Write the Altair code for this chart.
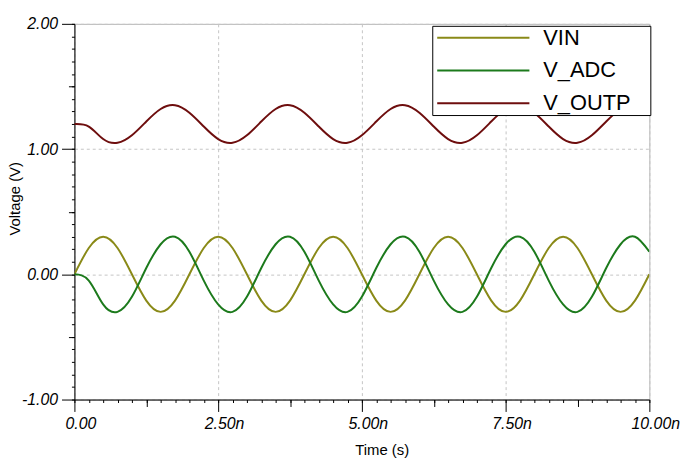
import altair as alt
import pandas as pd

# ---- data (time in ns, voltage in V) ----
time_ns = [0.00, 0.25, 0.50, 0.75, 1.00, 1.25, 1.50, 1.75, 2.00,
           2.25, 2.50, 2.75, 3.00, 3.25, 3.50, 3.75, 4.00,
           4.25, 4.50, 4.75, 5.00, 5.25, 5.50, 5.75, 6.00,
           6.25, 6.50, 6.75, 7.00, 7.25, 7.50, 7.75, 8.00,
           8.25, 8.50, 8.75, 9.00, 9.25, 9.50, 9.75, 10.00]

vin = [0.00, 0.21, 0.30, 0.21, 0.00, -0.21, -0.30, -0.21, 0.00,
       0.21, 0.30, 0.21, 0.00, -0.21, -0.30, -0.21, 0.00,
       0.21, 0.30, 0.21, 0.00, -0.21, -0.30, -0.21, 0.00,
       0.21, 0.30, 0.21, 0.00, -0.21, -0.30, -0.21, 0.00,
       0.21, 0.30, 0.21, 0.00, -0.21, -0.30, -0.21, 0.00]

v_adc = [0.00, -0.05, -0.24, -0.30, -0.18, 0.05, 0.24, 0.30, 0.18,
         -0.05, -0.24, -0.30, -0.18, 0.05, 0.24, 0.30, 0.18,
         -0.05, -0.24, -0.30, -0.18, 0.05, 0.24, 0.30, 0.18,
         -0.05, -0.24, -0.30, -0.18, 0.05, 0.24, 0.30, 0.18,
         -0.05, -0.24, -0.30, -0.18, 0.05, 0.24, 0.30, 0.18]

v_outp = [1.20, 1.18, 1.08, 1.05, 1.11, 1.22, 1.32, 1.35, 1.29,
          1.18, 1.08, 1.05, 1.11, 1.22, 1.32, 1.35, 1.29,
          1.18, 1.08, 1.05, 1.11, 1.22, 1.32, 1.35, 1.29,
          1.18, 1.08, 1.05, 1.11, 1.22, 1.32, 1.35, 1.29,
          1.18, 1.08, 1.05, 1.11, 1.22, 1.32, 1.35, 1.29]

series_names = ["VIN", "V_ADC", "V_OUTP"]
series_colors = ["#8a8a18", "#1c7a1c", "#6e0e0e"]

x_major = [0, 2.5, 5, 7.5, 10]
y_major = [-1, 0, 1, 2]
x_minor = [round(0.25 * i, 2) for i in range(41)]
x_mid = [1.25, 3.75, 6.25, 8.75]
y_minor = [round(-1 + 0.1 * i, 1) for i in range(31)]
y_mid = [-0.5, 0.5, 1.5]

rows = []
for name, vals in zip(series_names, [vin, v_adc, v_outp]):
    for t, v in zip(time_ns, vals):
        rows.append({"t": t, "v": v, "series": name})
df = pd.DataFrame(rows)

FONT = "Liberation Sans"
xscale = alt.Scale(domain=[0, 10], nice=False, zero=False)
yscale = alt.Scale(domain=[-1, 2], nice=False, zero=False)

base = alt.Chart(df)

lines = base.mark_line(strokeWidth=2, interpolate="natural", clip=True).encode(
    x=alt.X("t:Q", scale=xscale, axis=alt.Axis(
        values=x_major, orient="bottom", tickSize=12, tickColor="black",
        domainColor="black", grid=True, gridColor="#c4c4c4", gridDash=[3, 3],
        labelExpr="datum.value == 0 ? '0.00' : format(datum.value, '.2f') + 'n'",
        labelFont=FONT, labelFontSize=16, labelFontStyle="italic", labelColor="black",
        labelPadding=4, labelOffset=6, labelFlush=False, labelOverlap=False,
        title="Time (s)", titleFont=FONT, titleFontSize=15, titleFontWeight="normal",
        titleColor="black", titleX=310, titleY=55, titleBaseline="alphabetic",
        titleAlign="center")),
    y=alt.Y("v:Q", scale=yscale, axis=alt.Axis(
        values=y_major, orient="left", tickSize=13, tickColor="black",
        domainColor="black", grid=True, gridColor="#c4c4c4", gridDash=[3, 3],
        labelExpr="replace(format(datum.value, '.2f'), '\u2212', '-')",
        labelFont=FONT, labelFontSize=16, labelFontStyle="italic", labelColor="black",
        labelPadding=4, labelOverlap=False,
        title="Voltage (V)", titleFont=FONT, titleFontSize=15, titleFontWeight="normal",
        titleColor="black", titleX=-67, titleY=176, titleAngle=270,
        titleBaseline="top", titleAlign="center")),
    color=alt.Color("series:N", scale=alt.Scale(domain=series_names, range=series_colors),
                    legend=alt.Legend(
                        title=None, orient="none", legendX=361, legendY=2,
                        direction="vertical",
                        symbolType="M-4.65,0H4.65", symbolSize=400, symbolStrokeWidth=2,
                        symbolOffset=39.5, labelOffset=49.5,
                        labelFont=FONT, labelFontSize=22, labelColor="black",
                        labelExpr="datum.label + '\u00a0\u00a0\u00a0\u200b'",
                        padding=1, rowPadding=11, strokeColor="black", fillColor="white",
                        cornerRadius=0)),
)

minor = base.mark_line(opacity=0).encode(
    x=alt.X("t:Q", scale=xscale, axis=alt.Axis(
        values=x_minor, orient="bottom", tickSize=3, tickColor="black",
        labels=False, grid=False, domain=False, title=None)),
    y=alt.Y("v:Q", scale=yscale, axis=alt.Axis(
        values=y_minor, orient="left", tickSize=3, tickColor="black",
        labels=False, grid=False, domain=False, title=None)),
)

mid = base.mark_line(opacity=0).encode(
    x=alt.X("t:Q", scale=xscale, axis=alt.Axis(
        values=x_mid, orient="bottom", tickSize=7, tickColor="black",
        labels=False, grid=False, domain=False, title=None)),
    y=alt.Y("v:Q", scale=yscale, axis=alt.Axis(
        values=y_mid, orient="left", tickSize=6, tickColor="black",
        labels=False, grid=False, domain=False, title=None)),
)

chart = alt.layer(lines, minor, mid).resolve_axis(
    x="independent", y="independent"
).properties(
    width=580, height=379,
    autosize=alt.AutoSizeParams(type="none"),
    padding={"left": 67, "top": 14, "right": 40, "bottom": 58},
    background="white",
).configure_view(stroke="#b4b4b4", strokeWidth=1)

chart.save("out.html", embed_options={"renderer": "svg", "actions": False})
